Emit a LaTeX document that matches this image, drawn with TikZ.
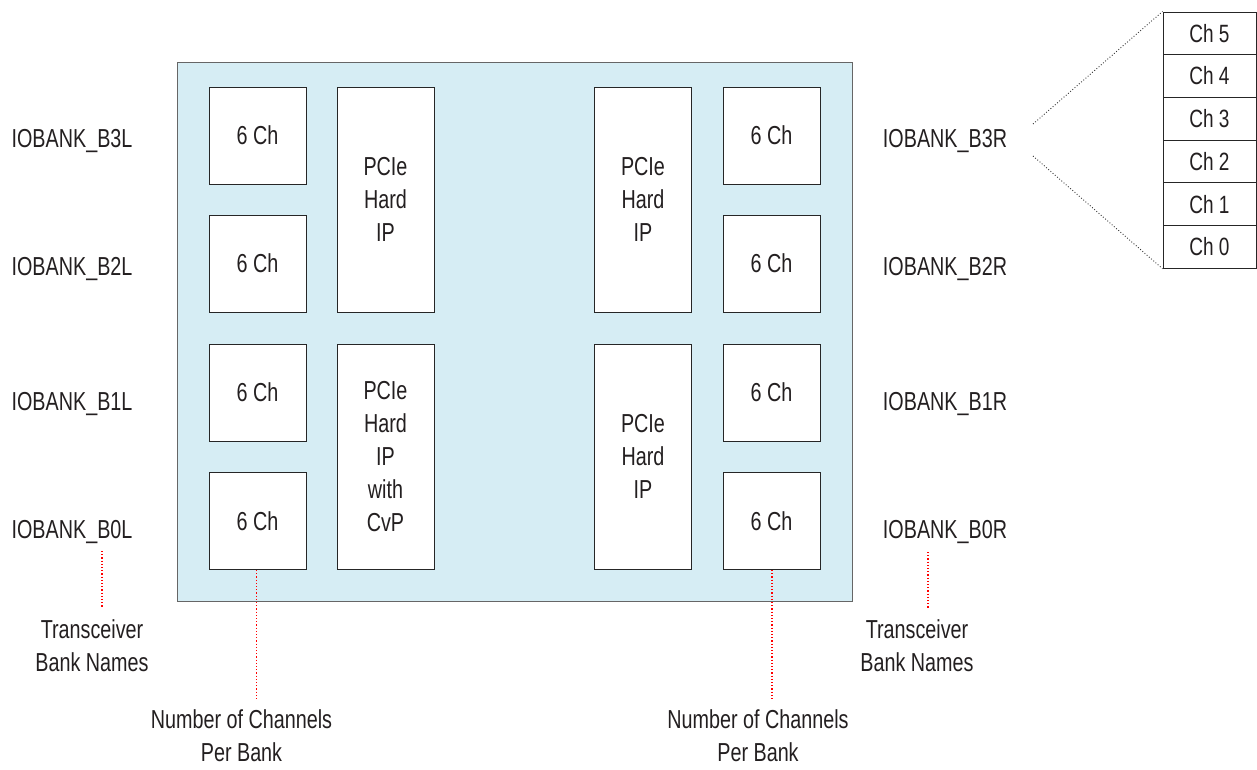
\documentclass[tikz,border=0pt]{standalone}
\usepackage{fontspec}
\setmainfont[FakeStretch=0.76]{Liberation Sans}
\definecolor{chipblue}{HTML}{D6EDF4}
\definecolor{txt}{HTML}{231F20}
\begin{document}
\begin{tikzpicture}[x=1pt,y=-1pt,
  lbl/.style={font=\fontsize{26}{33}\selectfont, text=txt, align=center, inner sep=0pt},
  box/.style={lbl, draw=black!85, fill=white, line width=1pt},
  chbox/.style={box, minimum width=97, minimum height=97},
  pciebox/.style={box, minimum width=97, minimum height=225},
  stackbox/.style={box, minimum width=93, minimum height=42.7, font=\fontsize{25}{30}\selectfont},
  reddot/.style={draw=red, dotted, line width=1.2pt},
  fan/.style={draw=black!80, dotted, line width=0.9pt}]
\useasboundingbox (0,0) rectangle (1257,769);
% chip outline
\node[draw=black!60, fill=chipblue, line width=1pt, minimum width=675, minimum height=539, inner sep=0pt] (chip) at (514.5,331.5) {};
% left channel boxes
\node[chbox] (l3) at (257.5,135.5) {6 Ch};
\node[chbox] (l2) at (257.5,263.5) {6 Ch};
\node[chbox] (l1) at (257.5,392.5) {6 Ch};
\node[chbox] (l0) at (257.5,521) {6 Ch};
% right channel boxes
\node[chbox] (r3) at (771.5,135.5) {6 Ch};
\node[chbox] (r2) at (771.5,263.5) {6 Ch};
\node[chbox] (r1) at (771.5,392.5) {6 Ch};
\node[chbox] (r0) at (771.5,521) {6 Ch};
% PCIe blocks
\node[pciebox] (pl1) at (385.5,199.5) {PCIe\\Hard\\IP};
\node[pciebox] (pl0) at (385.5,456.5) {PCIe\\Hard\\IP\\with\\CvP};
\node[pciebox] (pr1) at (643,199.5) {PCIe\\Hard\\IP};
\node[pciebox] (pr0) at (643,456.5) {PCIe\\Hard\\IP};
% bank labels
\node[lbl, anchor=base] (b3l) at (72,147) {IOBANK\_B3L};
\node[lbl, anchor=base] (b2l) at (72,275) {IOBANK\_B2L};
\node[lbl, anchor=base] (b1l) at (72,410) {IOBANK\_B1L};
\node[lbl, anchor=base] (b0l) at (72,538) {IOBANK\_B0L};
\node[lbl, anchor=base] (b3r) at (945,147) {IOBANK\_B3R};
\node[lbl, anchor=base] (b2r) at (945,275) {IOBANK\_B2R};
\node[lbl, anchor=base] (b1r) at (945,410) {IOBANK\_B1R};
\node[lbl, anchor=base] (b0r) at (945,538) {IOBANK\_B0R};
% annotation texts
\node[lbl] (tbl) at (92,646) {Transceiver\\Bank Names};
\node[lbl] (tbr) at (917,646) {Transceiver\\Bank Names};
\node[lbl] (ncl) at (241.5,736) {Number of Channels\\Per Bank};
\node[lbl] (ncr) at (758,736) {Number of Channels\\Per Bank};
% red dotted leaders
\coordinate (dl1) at (102,551); \coordinate (dl2) at (102,607);
\coordinate (dr1) at (928,552); \coordinate (dr2) at (928,608);
\coordinate (cl2) at (256.5,700); \coordinate (cr2) at (772,701);
\draw[reddot] (dl1) -- (dl2);
\draw[reddot] (dr1) -- (dr2);
\draw[reddot] (l0.south -| cl2) -- (cl2);
\draw[reddot] (r0.south -| cr2) -- (cr2);
% channel stack
\node[stackbox] (ch5) at (1209.5,33.35) {Ch 5};
\node[stackbox] (ch4) at (1209.5,76.05) {Ch 4};
\node[stackbox] (ch3) at (1209.5,118.75) {Ch 3};
\node[stackbox] (ch2) at (1209.5,161.45) {Ch 2};
\node[stackbox] (ch1) at (1209.5,204.15) {Ch 1};
\node[stackbox] (ch0) at (1209.5,246.85) {Ch 0};
\coordinate (fa) at (1033,124);
\coordinate (fb) at (1033,156);
\draw[fan] (fa) -- (ch5.north west);
\draw[fan] (fb) -- (ch0.south west);
\end{tikzpicture}
\end{document}
